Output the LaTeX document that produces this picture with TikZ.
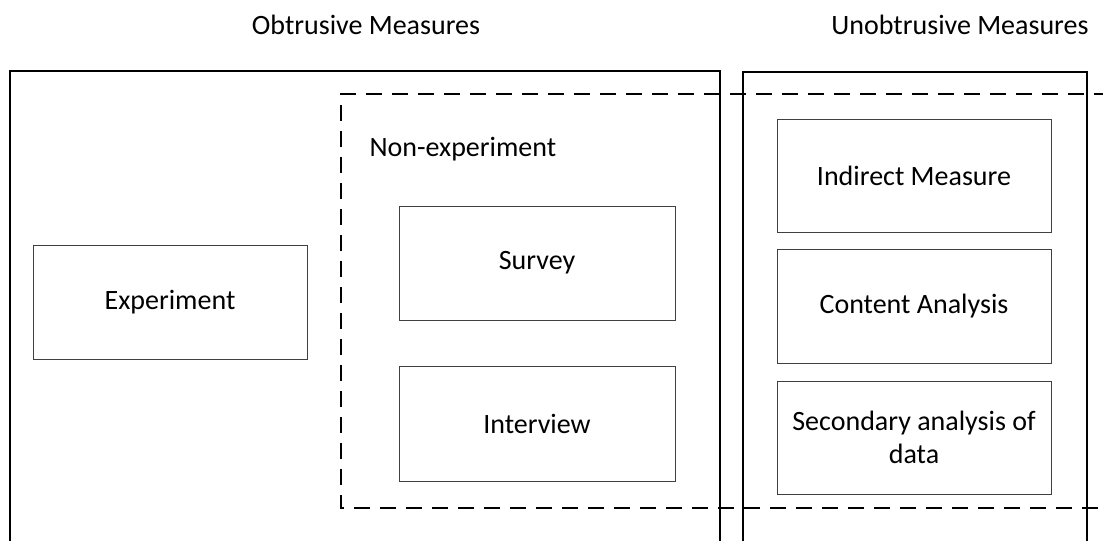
\documentclass[tikz,border=0pt]{standalone}
\usepackage{fontspec}
\setmainfont{Carlito}
\begin{document}
\begin{tikzpicture}[x=1pt,y=-1pt,
  outer/.style={draw=black,line width=1.7pt},
  item/.style={draw=black!75,line width=1pt,fill=white,align=center,font=\fontsize{28}{33}\selectfont},
  group/.style={draw=black,line width=2.2pt,dash pattern=on 16pt off 10pt},
  title/.style={font=\fontsize{28}{33}\selectfont}]
\useasboundingbox (0,0) rectangle (1103,541);
% column titles
\node[title] (obt) at (366,25) {Obtrusive Measures};
\node[title] (unobt) at (960,25) {Unobtrusive Measures};
% the two outer frames
\draw[outer] (10,541) -- (10,71) -- (720,71) -- (720,541);
\draw[outer] (743,541) -- (743,72) -- (1087,72) -- (1087,541);
% the dashed non-experiment group, open past the right edge
\draw[group] (1110,94) -- (341,94) -- (341,508) -- (1110,508);
\node[title,anchor=west] (nonexp) at (366,149) {Non-experiment};
% method boxes
\node[item,minimum width=274pt,minimum height=114pt] (exp) at (170,302) {Experiment};
\node[item,minimum width=276pt,minimum height=114pt] (survey) at (537,263) {Survey};
\node[item,minimum width=276pt,minimum height=115pt] (interview) at (537,423.5) {Interview};
\node[item,minimum width=274pt,minimum height=113pt] (indirect) at (914,175.5) {Indirect Measure};
\node[item,minimum width=274pt,minimum height=114pt] (content) at (914,306) {Content Analysis};
\node[item,minimum width=274pt,minimum height=113pt] (secondary) at (914,437.5) {Secondary analysis of\\data};
\end{tikzpicture}
\end{document}
